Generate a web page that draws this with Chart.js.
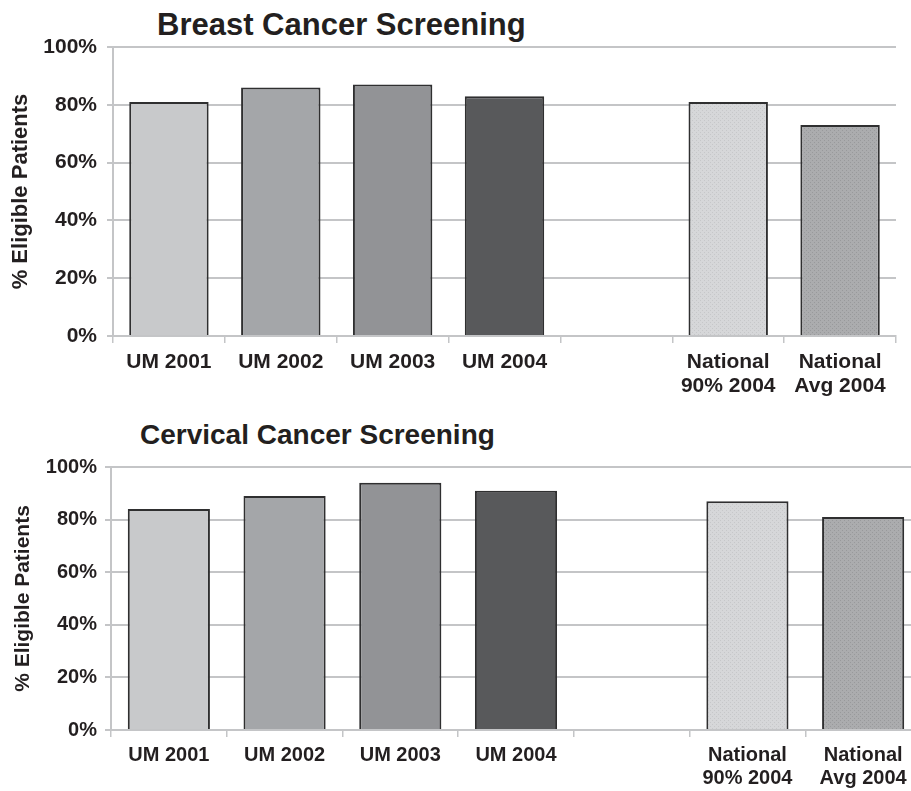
<!DOCTYPE html>
<html>
<head>
<meta charset="utf-8">
<script src="https://cdn.jsdelivr.net/npm/chart.js@4.4.1/dist/chart.umd.min.js"></script>
<style>
    body { margin: 0; overflow: hidden; background: #fff; font-family: "Liberation Sans", Arial, sans-serif; }
    .title { position: absolute; font-weight: bold; color: #231f20; white-space: nowrap; line-height: 1; }
    .box { position: absolute; left: 0; }
</style>
</head>
<body>
<div class="title" style="left:157px; top:9px; font-size:31px;">Breast Cancer Screening</div>
<div class="box" style="top:0; width:911px; height:396px;"><canvas id="breastChart"></canvas></div>

<div class="title" style="left:140px; top:421px; font-size:28px;">Cervical Cancer Screening</div>
<div class="box" style="top:400px; width:925px; height:391px;"><canvas id="cervicalChart"></canvas></div>

<script>
// categories (the empty one is the gap before the national figures)
let categories = ['UM 2001', 'UM 2002', 'UM 2003', 'UM 2004', '', ['National', '90% 2004'], ['National', 'Avg 2004']];
let breastValues = [81, 86, 87, 83, null, 81, 73];
let cervicalValues = [84, 89, 94, 91, null, 87, 81];
let yTicks = [0, 20, 40, 60, 80, 100];
let yTitle = '% Eligible Patients';

function dotPattern(base, dot) {
    let c = document.createElement('canvas');
    c.width = 4;
    c.height = 4;
    let g = c.getContext('2d');
    g.fillStyle = base;
    g.fillRect(0, 0, 4, 4);
    g.fillStyle = dot;
    g.fillRect(0, 0, 1, 1);
    g.fillRect(2, 2, 1, 1);
    return g.createPattern(c, 'repeat');
}

let barColors = ['#c8c9cb', '#a4a6a9', '#929396', '#58595b', '#ffffff',
    dotPattern('#d6d7d9', '#c6c7c9'), dotPattern('#abacae', '#98999b')];

let gridGray = '#c4c5c7';
let textColor = '#231f20';

function makeChart(id, values, s) {
    let ctx = document.getElementById(id).getContext('2d');
    return new Chart(ctx, {
        type: 'bar',
        data: {
            labels: categories,
            datasets: [{
                data: values,
                backgroundColor: barColors,
                borderColor: '#2f2f30',
                borderWidth: 2,
                barPercentage: 0.71,
                categoryPercentage: 1.0
            }]
        },
        options: {
            responsive: true,
            maintainAspectRatio: false,
            animation: false,
            layout: { padding: { top: s.top, right: s.right, left: 0, bottom: 0 } },
            plugins: { legend: { display: false }, tooltip: { enabled: false } },
            scales: {
                x: {
                    grid: { drawOnChartArea: false, drawTicks: true, tickLength: 7, color: gridGray, lineWidth: 1.5 },
                    border: { color: gridGray, width: 2 },
                    ticks: {
                        color: textColor,
                        padding: 7,
                        maxRotation: 0,
                        autoSkip: false,
                        font: { family: '"Liberation Sans", Arial, sans-serif', size: s.tick, weight: 'bold', lineHeight: 1.15 }
                    },
                    afterFit: (axis) => { axis.height = s.xHeight; }
                },
                y: {
                    min: 0,
                    max: 100,
                    afterBuildTicks: (axis) => { axis.ticks = yTicks.map(v => ({ value: v })); },
                    grid: { color: gridGray, lineWidth: 2, tickLength: 6 },
                    border: { color: gridGray, width: 2 },
                    ticks: {
                        color: textColor,
                        padding: s.yPad,
                        callback: (v) => v + '%',
                        font: { family: '"Liberation Sans", Arial, sans-serif', size: s.tick, weight: 'bold' }
                    },
                    title: {
                        display: true,
                        text: yTitle,
                        color: textColor,
                        padding: { top: s.titlePad, bottom: 0 },
                        font: { family: '"Liberation Sans", Arial, sans-serif', size: s.yTitle, weight: 'bold' }
                    },
                    afterFit: (axis) => { axis.width = s.left; }
                }
            }
        }
    });
}

makeChart('breastChart', breastValues, { top: 47, right: 15, left: 113, xHeight: 60, tick: 21, yTitle: 22, yPad: 10, titlePad: 8 });
makeChart('cervicalChart', cervicalValues, { top: 67, right: 4, left: 111, xHeight: 61, tick: 20, yTitle: 21, yPad: 8, titlePad: 11 });
</script>
</body>
</html>
